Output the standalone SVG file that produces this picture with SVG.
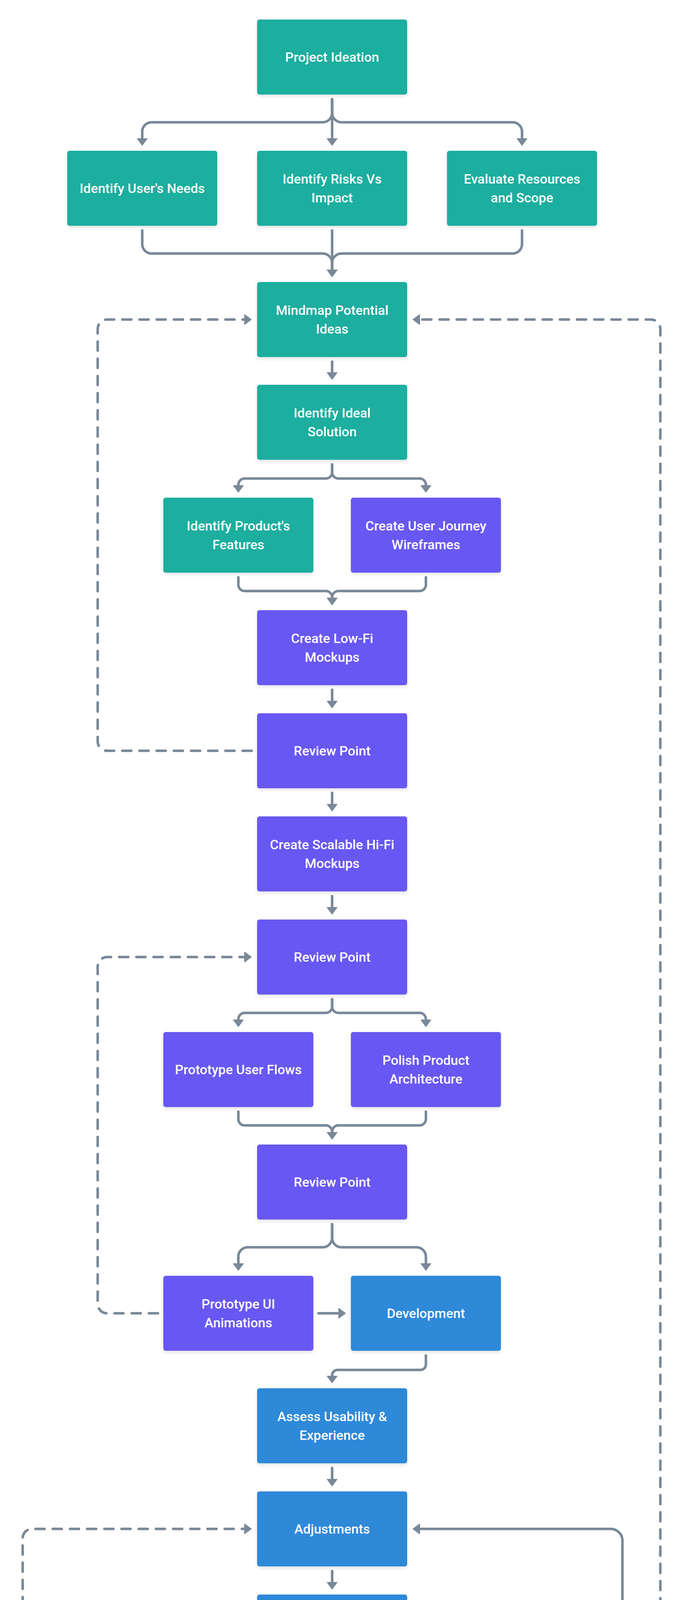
<svg xmlns="http://www.w3.org/2000/svg" width="1748" height="5860" viewBox="0 0 1748 5860">
<style>
.c{fill:none;stroke:#7a8898;stroke-width:6.5;stroke-linecap:round;stroke-linejoin:round}
.d{stroke-dasharray:23 21}
.a{marker-end:url(#ah)}
.n{filter:url(#sh)}
.t{fill:#1bae9f}.p{fill:#6859f3}.b{fill:#2d89d9}
text{font-family:Roboto,"Liberation Sans",Arial,sans-serif;font-size:34px;font-weight:500;fill:#ffffff;text-anchor:middle;white-space:pre}
</style>
<defs>
<filter id="sh" x="-10%" y="-10%" width="120%" height="130%"><feDropShadow dx="0" dy="4" stdDeviation="5" flood-color="#000" flood-opacity="0.12"/></filter>
<marker id="ah" markerUnits="userSpaceOnUse" markerWidth="19" markerHeight="28" viewBox="-1 -14 19 28" refX="0" refY="0" orient="auto"><path d="M0,-12.5 L17,0 L0,12.5 Z" fill="#7a8898" stroke="#7a8898" stroke-width="2" stroke-linejoin="round"/></marker>
</defs>
<rect width="1748" height="5860" fill="#ffffff"/>
<g id="connectors">
<path class="c a" d="M850,254 V289 A24,24 0 0 1 826,313 H388 A24,24 0 0 0 364,337 V355"/>
<path class="c a" d="M850,254 V355"/>
<path class="c a" d="M850,254 V289 A24,24 0 0 0 874,313 H1312 A24,24 0 0 1 1336,337 V355"/>
<path class="c a" d="M364,590 V625 A24,24 0 0 0 388,649 H826 A24,24 0 0 1 850,673 V691"/>
<path class="c a" d="M850,590 V691"/>
<path class="c a" d="M1336,590 V625 A24,24 0 0 1 1312,649 H874 A24,24 0 0 0 850,673 V691"/>
<path class="c a" d="M850,926 V954"/>
<path class="c a" d="M850,1189 V1209 A16,16 0 0 1 834,1225 H626 A16,16 0 0 0 610,1241 V1243"/>
<path class="c a" d="M850,1189 V1209 A16,16 0 0 0 866,1225 H1074 A16,16 0 0 1 1090,1241 V1243"/>
<path class="c a" d="M610,1478 V1497 A16,16 0 0 0 626,1513 H834 A16,16 0 0 1 850,1529 V1531"/>
<path class="c a" d="M1090,1478 V1497 A16,16 0 0 1 1074,1513 H866 A16,16 0 0 0 850,1529 V1531"/>
<path class="c a" d="M850,1766 V1795"/>
<path class="c a" d="M850,2030 V2059"/>
<path class="c a" d="M850,2294 V2323"/>
<path class="c a" d="M850,2558 V2577 A16,16 0 0 1 834,2593 H626 A16,16 0 0 0 610,2609 V2611"/>
<path class="c a" d="M850,2558 V2577 A16,16 0 0 0 866,2593 H1074 A16,16 0 0 1 1090,2609 V2611"/>
<path class="c a" d="M610,2846 V2865 A16,16 0 0 0 626,2881 H834 A16,16 0 0 1 850,2897 V2899"/>
<path class="c a" d="M1090,2846 V2865 A16,16 0 0 1 1074,2881 H866 A16,16 0 0 0 850,2897 V2899"/>
<path class="c a" d="M850,3134 V3169 A24,24 0 0 1 826,3193 H634 A24,24 0 0 0 610,3217 V3235"/>
<path class="c a" d="M850,3134 V3169 A24,24 0 0 0 874,3193 H1066 A24,24 0 0 1 1090,3217 V3235"/>
<path class="c a" d="M815,3362 H867"/>
<path class="c a" d="M1090,3470 V3493 A14,14 0 0 1 1076,3507 H864 A14,14 0 0 0 850,3521 V3523"/>
<path class="c a" d="M850,3758 V3787"/>
<path class="c a" d="M850,4022 V4051"/>
<path class="c a" d="M850,4286 V4313 A20,20 0 0 1 830,4333 H618 A20,20 0 0 0 598,4353 V4363"/>
<path class="c a" d="M850,4286 V4313 A20,20 0 0 0 870,4333 H1064 A20,20 0 0 1 1084,4353 V4363"/>
<path class="c a" d="M598,4598 V4633 A24,24 0 0 1 574,4657 H388 A24,24 0 0 0 364,4681 V4699"/>
<path class="c a" d="M598,4598 V4633 A24,24 0 0 0 622,4657 H826 A24,24 0 0 1 850,4681 V4699"/>
<path class="c a" d="M1084,4598 V4633 A24,24 0 0 1 1060,4657 H874 A24,24 0 0 0 850,4681 V4699"/>
<path class="c a" d="M1084,4598 V4633 A24,24 0 0 0 1108,4657 H1312 A24,24 0 0 1 1336,4681 V4699"/>
<path class="c a" d="M364,4934 V4956 A24,24 0 0 0 388,4980 H826 A24,24 0 0 1 850,5004 V5011"/>
<path class="c a" d="M850,4934 V5011"/>
<path class="c a" d="M1336,4934 V4956 A24,24 0 0 1 1312,4980 H874 A24,24 0 0 0 850,5004 V5011"/>
<path class="c a" d="M850,5246 V5272 A20,20 0 0 1 830,5292 H628 A20,20 0 0 0 608,5312 V5323"/>
<path class="c a" d="M850,5246 V5272 A20,20 0 0 0 870,5292 H1074 A20,20 0 0 1 1094,5312 V5323"/>
<path class="c a" d="M1094,5558 V5587"/>
<path class="c d a" d="M644,1922 H274 A24,24 0 0 1 250,1898 V842 A24,24 0 0 1 274,818 H626"/>
<path class="c d a" d="M404,3362 H274 A24,24 0 0 1 250,3338 V2474 A24,24 0 0 1 274,2450 H626"/>
<path class="c d a" d="M402,5450 H82 A24,24 0 0 1 58,5426 V3938 A24,24 0 0 1 82,3914 H626"/>
<path class="c a" d="M1054,5138 H1563 A30,30 0 0 0 1593,5108 V3944 A30,30 0 0 0 1563,3914 H1074"/>
<path class="c d a" d="M1299,5714 H1666 A24,24 0 0 0 1690,5690 V842 A24,24 0 0 0 1666,818 H1074"/>
</g>
<g id="n-project-ideation"><rect class="n t" x="658" y="50" width="384" height="192" rx="6"/><text x="850" y="158">Project Ideation</text></g>
<g id="n-identify-users-needs"><rect class="n t" x="172" y="386" width="384" height="192" rx="6"/><text x="364" y="494">Identify User's Needs</text></g>
<g id="n-identify-risks"><rect class="n t" x="658" y="386" width="384" height="192" rx="6"/><text x="850" y="470">Identify Risks Vs<tspan x="850" y="518">Impact</tspan></text></g>
<g id="n-evaluate-resources"><rect class="n t" x="1144" y="386" width="384" height="192" rx="6"/><text x="1336" y="470">Evaluate Resources<tspan x="1336" y="518">and Scope</tspan></text></g>
<g id="n-mindmap"><rect class="n t" x="658" y="722" width="384" height="192" rx="6"/><text x="850" y="806">Mindmap Potential<tspan x="850" y="854">Ideas</tspan></text></g>
<g id="n-ideal-solution"><rect class="n t" x="658" y="985" width="384" height="192" rx="6"/><text x="850" y="1069">Identify Ideal<tspan x="850" y="1117">Solution</tspan></text></g>
<g id="n-product-features"><rect class="n t" x="418" y="1274" width="384" height="192" rx="6"/><text x="610" y="1358">Identify Product's<tspan x="610" y="1406">Features</tspan></text></g>
<g id="n-user-journey"><rect class="n p" x="898" y="1274" width="384" height="192" rx="6"/><text x="1090" y="1358">Create User Journey<tspan x="1090" y="1406">Wireframes</tspan></text></g>
<g id="n-lowfi"><rect class="n p" x="658" y="1562" width="384" height="192" rx="6"/><text x="850" y="1646">Create Low-Fi<tspan x="850" y="1694">Mockups</tspan></text></g>
<g id="n-review-1"><rect class="n p" x="658" y="1826" width="384" height="192" rx="6"/><text x="850" y="1934">Review Point</text></g>
<g id="n-hifi"><rect class="n p" x="658" y="2090" width="384" height="192" rx="6"/><text x="850" y="2174">Create Scalable Hi-Fi<tspan x="850" y="2222">Mockups</tspan></text></g>
<g id="n-review-2"><rect class="n p" x="658" y="2354" width="384" height="192" rx="6"/><text x="850" y="2462">Review Point</text></g>
<g id="n-user-flows"><rect class="n p" x="418" y="2642" width="384" height="192" rx="6"/><text x="610" y="2750">Prototype User Flows</text></g>
<g id="n-architecture"><rect class="n p" x="898" y="2642" width="384" height="192" rx="6"/><text x="1090" y="2726">Polish Product<tspan x="1090" y="2774">Architecture</tspan></text></g>
<g id="n-review-3"><rect class="n p" x="658" y="2930" width="384" height="192" rx="6"/><text x="850" y="3038">Review Point</text></g>
<g id="n-ui-animations"><rect class="n p" x="418" y="3266" width="384" height="192" rx="6"/><text x="610" y="3350">Prototype UI<tspan x="610" y="3398">Animations</tspan></text></g>
<g id="n-development-1"><rect class="n b" x="898" y="3266" width="384" height="192" rx="6"/><text x="1090" y="3374">Development</text></g>
<g id="n-usability"><rect class="n b" x="658" y="3554" width="384" height="192" rx="6"/><text x="850" y="3638">Assess Usability &amp;<tspan x="850" y="3686">Experience</tspan></text></g>
<g id="n-adjustments"><rect class="n b" x="658" y="3818" width="384" height="192" rx="6"/><text x="850" y="3926">Adjustments</text></g>
<g id="n-development-2"><rect class="n b" x="658" y="4082" width="384" height="192" rx="6"/><text x="850" y="4190">Development</text></g>
<g id="n-heatmaps"><rect class="n b" x="406" y="4394" width="384" height="192" rx="6"/><text x="598" y="4502">Setup Heatmaps</text></g>
<g id="n-ab-testing"><rect class="n b" x="892" y="4394" width="384" height="192" rx="6"/><text x="1084" y="4502">A/B Testing</text></g>
<g id="n-survey-selective"><rect class="n b" x="172" y="4730" width="384" height="192" rx="6"/><text x="364" y="4814">User Survey<tspan x="364" y="4862">(Selective 5-10%)</tspan></text></g>
<g id="n-survey-broad"><rect class="n b" x="658" y="4730" width="384" height="192" rx="6"/><text x="850" y="4814">User Survey<tspan x="850" y="4862">(Broad 10-40%)</tspan></text></g>
<g id="n-survey-general"><rect class="n b" x="1144" y="4730" width="384" height="192" rx="6"/><text x="1336" y="4814">User Survey<tspan x="1336" y="4862">(General  50-100%)</tspan></text></g>
<g id="n-feedback"><rect class="n b" x="658" y="5042" width="384" height="192" rx="6"/><text x="850" y="5150">Feedback Analysis</text></g>
<g id="n-evaluate-impact"><rect class="n b" x="416" y="5354" width="384" height="192" rx="6"/><text x="608" y="5438">Evaluate Impact on<tspan x="608" y="5486">Business</tspan></text></g>
<g id="n-launch"><rect class="n b" x="902" y="5354" width="384" height="192" rx="6"/><text x="1094" y="5462">Launch</text></g>
<g id="n-business-change"><rect class="n t" x="902" y="5618" width="384" height="192" rx="6"/><text x="1094" y="5702">Assess Business<tspan x="1094" y="5750">Needs Change</tspan></text></g>
</svg>
